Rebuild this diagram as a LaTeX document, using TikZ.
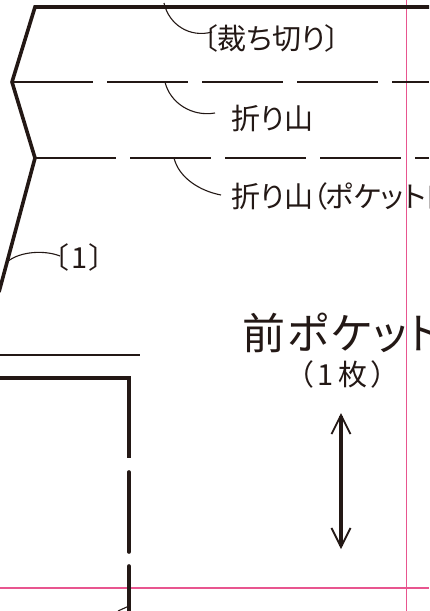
\documentclass[tikz,border=0pt]{standalone}
\usepackage{fontspec}
\setmainfont[RawFeature=+palt]{Noto Sans CJK JP}
\usetikzlibrary{arrows.meta}
\definecolor{ink}{HTML}{231815}
\definecolor{guide}{HTML}{E8558F}
\tikzstyle{cutline} = [line width=3.6pt, draw=ink, line join=miter]
\tikzstyle{foldline} = [line width=1.5pt, draw=ink, dash pattern=on 81pt off 14pt]
\tikzstyle{pocketline} = [line width=3.6pt, draw=ink, dash pattern=on 80pt off 14pt, line cap=round]
\tikzstyle{leader} = [line width=1.1pt, draw=ink]
\tikzstyle{guideline} = [line width=1.3pt, draw=guide]
\tikzstyle{arrow} = [line width=3.8pt, draw=ink, {Straight Barb[length=19pt,width=19pt,line width=1.8pt]}-{Straight Barb[length=19pt,width=19pt,line width=1.8pt]}]
\tikzstyle{label} = [anchor=west, inner sep=0pt, text=ink, font=\fontsize{29pt}{32pt}\selectfont]
\tikzstyle{title} = [anchor=west, inner sep=0pt, text=ink, font=\fontsize{43pt}{48pt}\selectfont\addfontfeature{LetterSpace=5}]

\begin{document}
\begin{tikzpicture}[x=1pt, y=-1pt]
\path [use as bounding box, clip] (0,0) rectangle (429,611);
\draw [guideline] (406.5,0) -- (406.5,611);
\draw [guideline] (0,588) -- (429,588);
% outline
\coordinate (topright) at (429,7);
\coordinate (topleft) at (35,7);
\coordinate (foldleft) at (12,82);
\coordinate (pocketleft) at (35,158);
\coordinate (sideend) at (-1,292);
\draw [cutline] (topright) -- (topleft) -- (foldleft) -- (pocketleft) -- (sideend);
% fold lines
\coordinate (foldright) at (429,82);
\coordinate (pocketright) at (429,158);
\draw [foldline] (foldleft) -- (foldright);
\draw [foldline] (pocketleft) -- (pocketright);
% labels
\node (cutlabel) [label] at (203,38) {〔裁ち切り〕};
\node (foldlabel) [label] at (231,118) {折り山};
\node (mouthlabel) [label] at (231,196) {折り山（\kern-2pt ポケット口};
\node (sidelabel) [label] at (54,257) {〔\kern3pt 1\kern2pt 〕};
\node (name) [title] at (242,333) {前ポケット};
\node (count) [label] at (299,374) {（\kern4pt 1\kern5pt 枚\kern4pt ）};
% leaders
\coordinate (cutstart) at (164,3);
\coordinate (foldstart) at (165,82);
\coordinate (mouthstart) at (174,158);
\coordinate (sidestart) at (7,262);
\draw [leader] (cutstart) .. controls (169,25) and (190,38) .. ([xshift=9pt,yshift=6pt]cutlabel.west);
\draw [leader] (foldstart) .. controls (170,103) and (192,117) .. ([xshift=-16pt,yshift=5pt]foldlabel.west);
\draw [leader] (mouthstart) .. controls (179,178) and (200,191) .. ([xshift=-10pt,yshift=1pt]mouthlabel.west);
\draw [leader] (sidestart) .. controls (20,251) and (45,250) .. ([xshift=6pt,yshift=1pt]sidelabel.west);
% lower pocket
\coordinate (upper) at (0,355);
\coordinate (upperend) at (140,355);
\draw [line width=1.3pt, draw=ink] (upper) -- (upperend);
\coordinate (pocketedge) at (-1,378);
\coordinate (pocketcorner) at (129,378);
\coordinate (pocketgap) at (129,458);
\coordinate (pocketend) at (129,613);
\draw [cutline] (pocketedge) -- (pocketcorner) -- (pocketgap);
\draw [pocketline] (pocketgap) ++(0,14) -- (pocketend);
\coordinate (tickend) at (118,611);
\draw [leader] (tickend) -- (129,606);
% grain arrow
\coordinate (arrowtop) at (341,413);
\coordinate (arrowbottom) at (341,549);
\draw [arrow] (arrowtop) -- (arrowbottom);
\end{tikzpicture}
\end{document}
